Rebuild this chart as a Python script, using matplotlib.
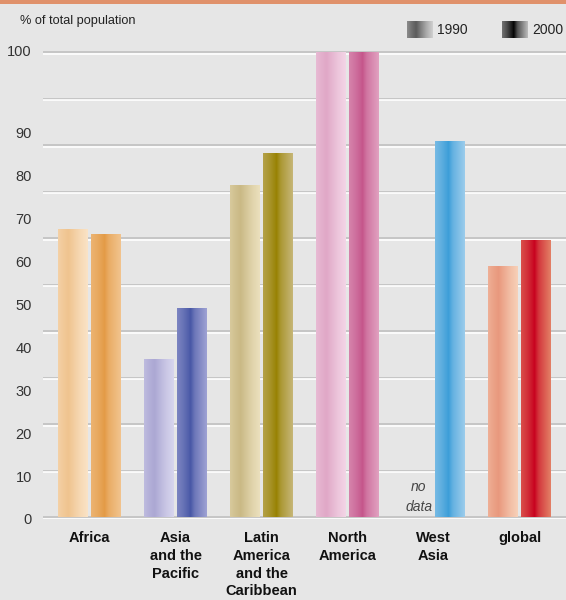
import numpy as np
import matplotlib
matplotlib.use("Agg")
import matplotlib.pyplot as plt
from matplotlib.colors import to_rgb
from matplotlib.patches import Rectangle
import matplotlib.transforms as mtransforms
from matplotlib import font_manager

# ---------------- data ----------------
categories = ["Africa", "Asia\nand the\nPacific", "Latin\nAmerica\nand the\nCaribbean",
              "North\nAmerica", "West\nAsia", "global"]
values_1990 = [62.0, 34.0, 71.4, 100.0, np.nan, 54.1]
values_2000 = [60.9, 44.9, 78.4, 100.0, 81.0, 59.6]
series_labels = ["1990", "2000"]
ytick_values = [0, 10, 20, 30, 40, 50, 60, 70, 80, 90, 100]
ylabel_text = "% of total population"
nodata_text = "no\ndata"

# ---------------- style ----------------
light_1990 = ["#fae3c6", "#d8d6ee", "#ebe0bd", "#f3d5e6", "#ffffff", "#f7d0b8"]
dark_1990 = ["#efc28c", "#a9a5d2", "#c8b782", "#dfa5c5", "#ffffff", "#e8957a"]
light_2000 = ["#f3c896", "#a8aad8", "#cbbc84", "#e4a9c6", "#a6d1ee", "#e68e6e"]
dark_2000 = ["#e39a45", "#4656a5", "#978100", "#c4548a", "#3a9dd8", "#c8001e"]

def font_ok(name):
    try:
        font_manager.findfont(name, fallback_to_default=False)
        return True
    except Exception:
        return False

narrow = "Liberation Sans Narrow" if font_ok("Liberation Sans Narrow") else "Liberation Sans"

BG = "#e6e6e6"
fig = plt.figure(figsize=(5.66, 6.0), dpi=100, facecolor=BG)
ax = fig.add_axes([43 / 566, 0.135, 1 - 43 / 566, 0.78])
ax.set_facecolor(BG)
for s in ax.spines.values():
    s.set_visible(False)

# top orange band
fig.patches.append(Rectangle((0, 1 - 4 / 600), 1, 4 / 600, transform=fig.transFigure,
                             facecolor="#e0916b", edgecolor="none", zorder=5))

x = np.arange(len(categories))
bw = 30 / 86
off = 16.5 / 86

# gridlines (gray line with white highlight beneath)
white_tr = mtransforms.offset_copy(ax.transData, fig=fig, x=0, y=-1.4, units="dots")
for v in ytick_values:
    ax.axhline(v, color="#bdbdbd", lw=1.1, zorder=1)
    ax.plot([-1, 7], [v, v], color="white", lw=1.2, zorder=1.1, transform=white_tr)

bars90 = ax.bar(x - off, np.nan_to_num(values_1990, nan=0.0), width=bw, color="none",
                edgecolor="none", zorder=3)
bars00 = ax.bar(x + off, values_2000, width=bw, color="none", edgecolor="none", zorder=3)

# gradient profiles across bar width (0=light,1=dark)
px = np.linspace(0, 1, 60)
prof_90 = np.interp(px, [0, 0.15, 0.35, 0.5, 0.75, 1.0], [0.55, 0.75, 0.95, 0.7, 0.3, 0.0])
prof_00 = np.interp(px, [0, 0.2, 0.4, 0.45, 0.5, 0.6, 0.8, 1.0],
                    [0.45, 0.65, 0.9, 1.0, 0.85, 0.6, 0.35, 0.1])

def grad_image(light, dark, prof):
    l = np.array(to_rgb(light)); d = np.array(to_rgb(dark))
    return (l[None, :] * (1 - prof[:, None]) + d[None, :] * prof[:, None])[None, :, :]

def fill_gradient(bars, lights, darks, prof, vals):
    for b, lc, dc, v in zip(bars, lights, darks, vals):
        if np.isnan(v):
            continue
        x0, w, h = b.get_x(), b.get_width(), b.get_height()
        im = ax.imshow(grad_image(lc, dc, prof), extent=[x0, x0 + w, 0, h],
                       aspect="auto", interpolation="bilinear", zorder=3)
        im.set_clip_path(b)

fill_gradient(bars90, light_1990, dark_1990, prof_90, values_1990)
fill_gradient(bars00, light_2000, dark_2000, prof_00, values_2000)

ax.set_xlim(-43 / 86 - 0.041, (566 - 89.5) / 86)
ax.set_ylim(0, 100)

# y tick labels (placed as in reference, compressed below 100)
ytick_pos = [v * 0.925 - 0.4 if v < 100 else 100.3 for v in ytick_values]
ax.set_yticks(ytick_pos)
ax.set_yticklabels([str(v) for v in ytick_values], fontsize=10.5, color="#333333",
                   family=narrow)
ax.tick_params(axis="y", length=0, pad=8)
ax.set_xticks([])

# category labels
for xi, lab in zip(x, categories):
    ax.text(xi, -2.9, lab, ha="center", va="top", fontsize=10.5, fontweight="bold",
            family=narrow, color="#111111", linespacing=1.36)

# no data text
for xi, v in zip(x, values_1990):
    if np.isnan(v):
        ax.text(xi - off + 0.02, 4.3, nodata_text, ha="center", va="center", fontsize=10,
                style="italic", color="#444444", family=narrow, linespacing=1.5)

fig.text(20 / 566, 1 - 21 / 600, ylabel_text, ha="left", va="center", fontsize=9.2,
         color="#222222", family=narrow)

# legend with gray gradient swatches
leg_pos = [(407, 437), (502, 532)]
for (sx, tx), lab, prof, dk in zip(leg_pos, series_labels, [prof_90, prof_00],
                                     ["#555555", "#000000"]):
    sax = fig.add_axes([sx / 566, 1 - 38 / 600, 26 / 566, 17 / 600])
    sax.imshow(grad_image("#cfcfcf", dk, prof), aspect="auto", interpolation="bilinear")
    sax.axis("off")
    fig.text(tx / 566, 1 - 30 / 600, lab, ha="left", va="center", fontsize=10,
             color="#222222", family=narrow)

fig.savefig("out.png", dpi=100, facecolor=BG)
